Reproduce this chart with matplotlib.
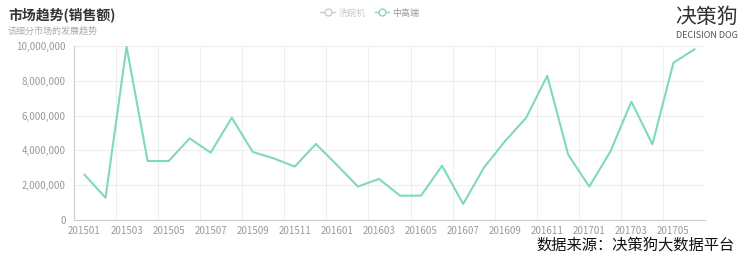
import matplotlib

matplotlib.use("Agg")

import matplotlib.pyplot as plt
from matplotlib.lines import Line2D
from matplotlib.ticker import FuncFormatter, FixedLocator

plt.rcParams["font.family"] = ["Noto Sans CJK SC", "DejaVu Sans"]

months = [
    "201501", "201502", "201503", "201504", "201505", "201506",
    "201507", "201508", "201509", "201510", "201511", "201512",
    "201601", "201602", "201603", "201604", "201605", "201606",
    "201607", "201608", "201609", "201610", "201611", "201612",
    "201701", "201702", "201703", "201704", "201705", "201706",
]
sales = [
    2600000, 1280000, 9960000, 3390000, 3390000, 4690000,
    3870000, 5880000, 3910000, 3540000, 3070000, 4370000,
    3160000, 1920000, 2360000, 1400000, 1400000, 3120000,
    920000, 3030000, 4540000, 5880000, 8290000, 3740000,
    1920000, 3930000, 6800000, 4350000, 9040000, 9810000,
]
legend_names = ["洗碗机", "中高端"]
y_ticks = [0, 2000000, 4000000, 6000000, 8000000, 10000000]

_LINE = "#7ed8c2"
_GRID = "#eeeeee"
_TEXT = "#999999"

W, H = 750, 254
fig = plt.figure(figsize=(W / 100, H / 100), dpi=100)
ax = fig.add_axes([74 / W, (H - 220) / H, (705 - 74) / W, (220 - 46) / H])

x = list(range(len(months)))
ax.plot(x, sales, color=_LINE, lw=1.5, zorder=3)

ax.set_xlim(-0.5, len(months) - 0.5)
ax.set_ylim(0, 10000000)
ax.set_yticks(y_ticks)
ax.yaxis.set_major_formatter(FuncFormatter(lambda v, _: f"{v:,.0f}"))
ax.set_xticks(x[::2])
ax.set_xticklabels(months[::2])
ax.xaxis.set_minor_locator(FixedLocator([i - 0.5 for i in x[::2]]))

ax.grid(axis="y", color=_GRID, lw=0.8)
ax.grid(axis="x", which="minor", color=_GRID, lw=0.8)
ax.tick_params(axis="both", which="both", length=0, colors=_TEXT, labelsize=7)
ax.tick_params(axis="x", pad=4)
ax.tick_params(axis="y", pad=6)
for side in ("top", "right"):
    ax.spines[side].set_visible(False)
ax.spines["left"].set_color("#cccccc")
ax.spines["bottom"].set_color("#cccccc")
ax.set_axisbelow(True)

fig.text(8 / W, 1 - 15 / H, "市场趋势(销售额)", fontsize=10, fontweight="bold", color="#333333", va="center")
fig.text(8 / W, 1 - 31 / H, "该细分市场的发展趋势", fontsize=6.5, color="#aaaaaa", va="center")

handles = [
    Line2D([], [], color="#cccccc", lw=1, marker="o", markersize=5, markerfacecolor="white"),
    Line2D([], [], color=_LINE, lw=1, marker="o", markersize=5, markerfacecolor="white"),
]
leg = fig.legend(handles, legend_names, loc="center", bbox_to_anchor=(370 / W, 1 - 13 / H),
                 ncol=2, frameon=False, fontsize=6.5, handlelength=1.6, columnspacing=1.0,
                 handletextpad=0.4)
leg.get_texts()[0].set_color("#cccccc")
leg.get_texts()[1].set_color("#999999")

fig.text(738 / W, 1 - 17 / H, "决策狗", fontsize=15, color="#333333", ha="right", va="center")
fig.text(738 / W, 1 - 35 / H, "DECISION DOG", fontsize=6.5, color="#555555", ha="right", va="center")
fig.text(735 / W, 1 - 245 / H, "数据来源：决策狗大数据平台", fontsize=11, color="#111111", ha="right", va="center")

fig.savefig("out.png", dpi=100, facecolor="white")
plt.close(fig)
